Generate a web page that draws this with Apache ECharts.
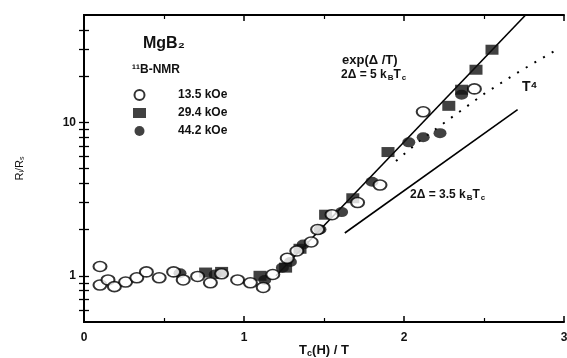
<!DOCTYPE html>
<html>
<head>
<meta charset="utf-8">
<script src="https://cdn.jsdelivr.net/npm/echarts@6/dist/echarts.min.js"></script>
<style>
  html, body { margin: 0; padding: 0; background: #fff; }
  #main { width: 567px; height: 358px; }
</style>
</head>
<body>
<div id="main"></div>
<script>
// data: [Tc(H)/T, R1/Rs]
var open135 = [[0.10, 1.15], [0.10, 0.87], [0.15, 0.94], [0.19, 0.85], [0.26, 0.91], [0.33, 0.97],
  [0.39, 1.06], [0.47, 0.97], [0.56, 1.06], [0.62, 0.94], [0.71, 0.99], [0.79, 0.90], [0.86, 1.03],
  [0.96, 0.94], [1.04, 0.90], [1.12, 0.84], [1.18, 1.02], [1.27, 1.30], [1.33, 1.45], [1.42, 1.66],
  [1.46, 2.0], [1.55, 2.5], [1.71, 3.0], [1.85, 3.9], [2.12, 11.7], [2.44, 16.5]]
var square294 = [[0.76, 1.05], [0.86, 1.06], [1.10, 1.0], [1.26, 1.13], [1.35, 1.5], [1.51, 2.5],
  [1.68, 3.2], [1.90, 6.4], [2.28, 12.8], [2.36, 16.3], [2.45, 22], [2.55, 29.7]]
var filled442 = [[0.60, 1.04], [0.82, 1.02], [1.13, 0.94], [1.24, 1.13], [1.29, 1.23], [1.37, 1.6],
  [1.475, 2.0], [1.61, 2.6], [1.80, 4.1], [2.03, 7.4], [2.12, 8.0], [2.225, 8.5], [2.36, 15.1]]
var fit5 = [[1.2, 1.0], [2.76, 50]]          // 2Δ = 5 kB Tc
var fit35 = [[1.63, 1.9], [2.71, 12.1]]      // 2Δ = 3.5 kB Tc
var powT4 = [[1.95, 5.6], [2.1, 7.6], [2.3, 10.8], [2.5, 15.3], [2.7, 20.8], [2.95, 29.5]]
var xTicks = [0, 1, 2, 3]
var yLabels = [1, 10]
var yTicks = [0.6, 0.7, 0.8, 0.9, 1, 2, 3, 4, 5, 6, 7, 8, 9, 10, 20, 30, 40]

var font = 'Liberation Sans, Arial, sans-serif'
var myChart = echarts.init(document.getElementById('main'))

function yAx (pos, labels) {
  return {
    type: 'log', logBase: 10, min: 0.5, max: 50, position: pos,
    axisLine: { show: true, lineStyle: { color: '#000', width: 2 } },
    axisTick: { show: true, inside: true, length: 5, customValues: yTicks, lineStyle: { color: '#000', width: 1.3 } },
    axisLabel: labels ? {
      customValues: yLabels, color: '#111', fontFamily: font, fontWeight: 'bold', fontSize: 12, margin: 8
    } : { show: false },
    splitLine: { show: false }
  }
}
function xAx (pos, labels) {
  return {
    type: 'value', min: 0, max: 3, interval: 1, position: pos,
    axisLine: { show: true, onZero: false, lineStyle: { color: '#000', width: 2 } },
    axisTick: { show: true, inside: true, length: 6, lineStyle: { color: '#000', width: 1.5 } },
    minorTick: { show: true, splitNumber: 2, length: 4, lineStyle: { color: '#000', width: 1.2 } },
    axisLabel: labels ? {
      customValues: xTicks, color: '#111', fontFamily: font, fontWeight: 'bold', fontSize: 12, margin: 10
    } : { show: false },
    splitLine: { show: false },
    name: labels ? '{a|T}{s|c}{a|(H) / T}' : '',
    nameLocation: 'middle', nameGap: 21, nameMoveOverlap: false,
    nameTextStyle: {
      rich: {
        a: { fontFamily: font, fontWeight: 'bold', fontSize: 13, color: '#111' },
        s: { fontFamily: font, fontWeight: 'bold', fontSize: 9, color: '#111', padding: [6, 0, 0, 0] }
      }
    }
  }
}

var ry = yAx('left', true)
ry.name = '{a|R}{s|l}{a|/R}{s|s}'
ry.nameLocation = 'middle'
ry.nameGap = 58
ry.nameMoveOverlap = false
ry.nameTextStyle = {
  rich: {
    a: { fontFamily: font, fontSize: 11, color: '#111' },
    s: { fontFamily: font, fontSize: 7, color: '#111', padding: [5, 0, 0, 0] }
  }
}

var rich = {
  a: { fontFamily: font, fontWeight: 'bold', fontSize: 12, fill: '#111' },
  s: { fontFamily: font, fontWeight: 'bold', fontSize: 8, fill: '#111', padding: [6, 0, 0, 1] }
}

myChart.setOption({
  animation: false,
  backgroundColor: '#fff',
  grid: { left: 84, right: 3, top: 15, bottom: 36, outerBoundsMode: 'none', containLabel: false },
  xAxis: [xAx('bottom', true), xAx('top', false)],
  yAxis: [ry, yAx('right', false)],
  legend: {
    orient: 'vertical', left: 128, top: 84, itemGap: 6, itemWidth: 13, itemHeight: 10,
    data: ['13.5 kOe', '29.4 kOe', '44.2 kOe'],
    textStyle: { fontFamily: font, fontWeight: 'bold', fontSize: 12, color: '#111', padding: [0, 0, 0, 27] }
  },
  graphic: [
    { type: 'text', left: 143, top: 36, style: { text: 'MgB₂', fontFamily: font, fontWeight: 'bold', fontSize: 16, fill: '#111' } },
    { type: 'text', left: 132, top: 64, style: { text: '¹¹B-NMR', fontFamily: font, fontWeight: 'bold', fontSize: 12, fill: '#111' } },
    { type: 'text', left: 342, top: 54, style: { text: 'exp(Δ /T)', fontFamily: font, fontWeight: 'bold', fontSize: 13, fill: '#111' } },
    { type: 'text', left: 341, top: 69, style: { text: '{a|2Δ = 5 k}{s|B}{a|T}{s|c}', rich: rich } },
    { type: 'text', left: 522, top: 80, style: { text: 'T⁴', fontFamily: font, fontWeight: 'bold', fontSize: 14, fill: '#111' } },
    { type: 'text', left: 410, top: 189, style: { text: '{a|2Δ = 3.5 k}{s|B}{a|T}{s|c}', rich: rich } }
  ],
  series: [
    { name: 'fit5', type: 'line', data: fit5, showSymbol: false, z: 2, lineStyle: { color: '#000', width: 1.6 } },
    { name: 'fit35', type: 'line', data: fit35, showSymbol: false, z: 2, lineStyle: { color: '#000', width: 1.6 } },
    { name: 'T4', type: 'line', data: powT4, showSymbol: false, z: 2, lineStyle: { color: '#000', width: 2, type: [2, 8] } },
    { name: '29.4 kOe', type: 'scatter', data: square294, symbol: 'rect', symbolSize: [13, 10], z: 3,
      itemStyle: { color: '#111' } },
    { name: '44.2 kOe', type: 'scatter', data: filled442, symbol: 'circle', symbolSize: [13, 10], z: 3,
      itemStyle: { color: '#111' } },
    { name: '13.5 kOe', type: 'scatter', data: open135, symbol: 'circle', symbolSize: [13, 10], z: 4,
      itemStyle: { color: '#fff', borderColor: '#000', borderWidth: 1.8 } }
  ]
})
</script>
</body>
</html>
